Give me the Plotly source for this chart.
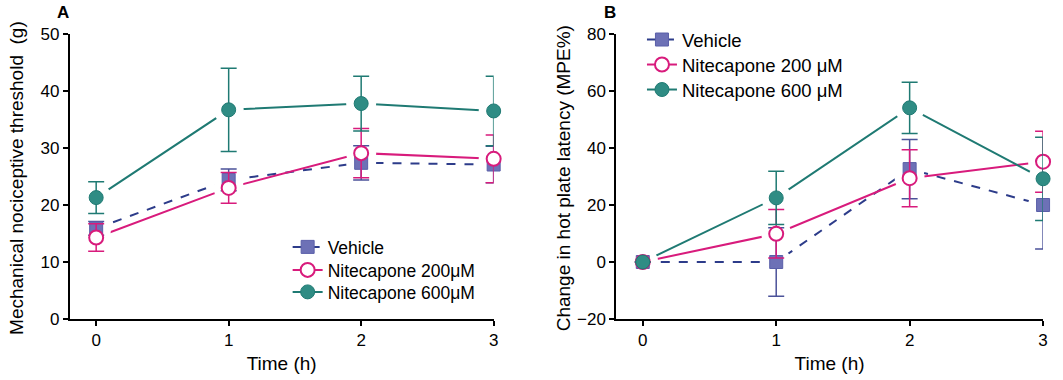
import plotly.graph_objects as go

time_h = [0, 1, 2, 3]

# Panel A: mechanical nociceptive threshold (g), mean and SEM
a_vehicle = [15.9, 24.4, 27.4, 27.1]
a_vehicle_err = [1.2, 1.9, 3.0, 3.2]
a_nit200 = [14.3, 23.0, 29.1, 28.1]
a_nit200_err = [2.4, 2.7, 4.3, 4.2]
a_nit600 = [21.3, 36.7, 37.8, 36.5]
a_nit600_err = [2.8, 7.3, 4.8, 6.1]

# Panel B: change in hot plate latency (MPE%), mean and SEM
b_vehicle = [0.0, 0.0, 32.6, 20.0]
b_vehicle_err = [0.0, 12.0, 10.4, 15.4]
b_nit200 = [0.0, 9.9, 29.4, 35.2]
b_nit200_err = [0.0, 8.5, 10.0, 10.7]
b_nit600 = [0.0, 22.5, 54.1, 29.2]
b_nit600_err = [0.0, 9.3, 9.0, 14.6]

names_a = ["Vehicle", "Nitecapone 200\u03bcM", "Nitecapone 600\u03bcM"]
names_b = ["Vehicle", "Nitecapone 200 \u03bcM", "Nitecapone 600 \u03bcM"]

ytitle_a = "Mechanical nociceptive threshold  (g)"
ytitle_b = "Change in hot plate latency (MPE%)"
xtitle = "Time (h)"

NAVY = "#2d3c8a"
VEH_FILL = "#6d71b6"
VEH_ERR = "#4b5299"
MAGENTA = "#d81b7c"
TEAL = "#1f7a73"
TEAL_FILL = "#2f8c84"

FONT = "Liberation Sans, Arial, sans-serif"
W, H, T, B = 1063, 380, 34, 61

styles = [
    dict(line=dict(color=NAVY, width=2, dash="dash"),
         marker=dict(symbol="square", size=13, color=VEH_FILL,
                     line=dict(color="#5a5fa9", width=1)),
         err=VEH_ERR),
    dict(line=dict(color=MAGENTA, width=2),
         marker=dict(symbol="circle", size=14, color="white",
                     line=dict(color=MAGENTA, width=2)),
         err=MAGENTA),
    dict(line=dict(color=TEAL, width=2),
         marker=dict(symbol="circle", size=14, color=TEAL_FILL,
                     line=dict(color=TEAL, width=1)),
         err=TEAL),
]

series_a = [(a_vehicle, a_vehicle_err), (a_nit200, a_nit200_err), (a_nit600, a_nit600_err)]
series_b = [(b_vehicle, b_vehicle_err), (b_nit200, b_nit200_err), (b_nit600, b_nit600_err)]

fig = go.Figure()


def add_panel(series, names, xa, ya, legs):
    # layer 1: connecting lines (these carry the legend entries)
    for (vals, errs), name, st, leg in zip(series, names, styles, legs):
        fig.add_trace(go.Scatter(
            x=time_h, y=vals, name=name, mode="lines+markers",
            line=st["line"], marker=st["marker"], cliponaxis=False,
            xaxis=xa, yaxis=ya, legend=leg))
    # layer 2: white gaps around the symbols (GraphPad style)
    for vals, errs in series:
        fig.add_trace(go.Scatter(
            x=time_h, y=vals, mode="markers", showlegend=False,
            hoverinfo="skip", cliponaxis=False,
            marker=dict(symbol="circle", size=30, color="white",
                        line=dict(width=0)),
            xaxis=xa, yaxis=ya))
    # layer 3: error bars and symbols
    for (vals, errs), name, st in zip(series, names, styles):
        fig.add_trace(go.Scatter(
            x=time_h, y=vals, name=name, mode="markers", showlegend=False,
            marker=st["marker"], cliponaxis=False,
            error_y=dict(type="data", array=errs, visible=True,
                         color=st["err"], thickness=1.5, width=8),
            xaxis=xa, yaxis=ya))


legs_a = ["legend", "legend3", "legend4"]
legs_b = ["legend2", "legend5", "legend6"]
add_panel(series_a, names_a, "x", "y", legs_a)
add_panel(series_b, names_b, "x2", "y2", legs_b)

axis_common = dict(showgrid=False, zeroline=False, showline=True,
                   linecolor="black", linewidth=1.5, ticks="outside",
                   ticklen=5, tickwidth=1.5, tickcolor="black",
                   tickfont=dict(family=FONT, size=17, color="black"),
                   title_font=dict(family=FONT, size=19, color="black"))


def ypix(p):
    return (H - B - p) / (H - T - B)


def legend_box(xpix, ycenter, size):
    return dict(x=xpix / W, y=ypix(ycenter), xanchor="left", yanchor="middle",
                bgcolor="rgba(0,0,0,0)", itemwidth=30,
                font=dict(family=FONT, size=size, color="black"))


layout_legends = {}
for leg, yc in zip(legs_a, [247, 270, 292]):
    layout_legends[leg] = legend_box(289, yc, 17.5)
for leg, yc in zip(legs_b, [40, 65, 90]):
    layout_legends[leg] = legend_box(645, yc, 18.5)

fig.update_layout(
    width=W, height=H,
    margin=dict(l=0, r=0, t=T, b=B),
    paper_bgcolor="white", plot_bgcolor="white",
    font=dict(family=FONT, color="black"),
    xaxis=dict(domain=[70 / W, 496 / W], range=[-0.2, 3.0],
               tickvals=time_h, title=dict(text=xtitle, standoff=8),
               anchor="y", **axis_common),
    yaxis=dict(domain=[0, 1], range=[0, 50], tickvals=[0, 10, 20, 30, 40, 50],
               anchor="x", **axis_common),
    xaxis2=dict(domain=[619 / W, 1048 / W], range=[-0.2, 3.0],
                tickvals=time_h, title=dict(text=xtitle, standoff=8),
                anchor="y2", **axis_common),
    yaxis2=dict(domain=[0, 1], range=[-20, 80], tickvals=[-20, 0, 20, 40, 60, 80],
                anchor="x2", **axis_common),
    annotations=[
        dict(text="<b>A</b>", x=63 / W, y=1.0, xref="paper", yref="paper",
             xanchor="center", yanchor="bottom", yshift=10, showarrow=False,
             font=dict(family=FONT, size=17, color="black")),
        dict(text="<b>B</b>", x=613 / W, y=1.0, xref="paper", yref="paper",
             xanchor="center", yanchor="bottom", yshift=10, showarrow=False,
             font=dict(family=FONT, size=17, color="black")),
        dict(text=ytitle_a, textangle=-90, x=16 / W, y=ypix(178), xref="paper",
             yref="paper", xanchor="center", yanchor="middle", showarrow=False,
             font=dict(family=FONT, size=19, color="black")),
        dict(text=ytitle_b, textangle=-90, x=566 / W, y=ypix(178), xref="paper",
             yref="paper", xanchor="center", yanchor="middle", showarrow=False,
             font=dict(family=FONT, size=19, color="black")),
    ],
    **layout_legends,
)

fig.write_html("out.html",
               config={"displayModeBar": False},
               post_script="document.body.style.margin='0';"
                           "document.body.style.overflow='hidden';")
